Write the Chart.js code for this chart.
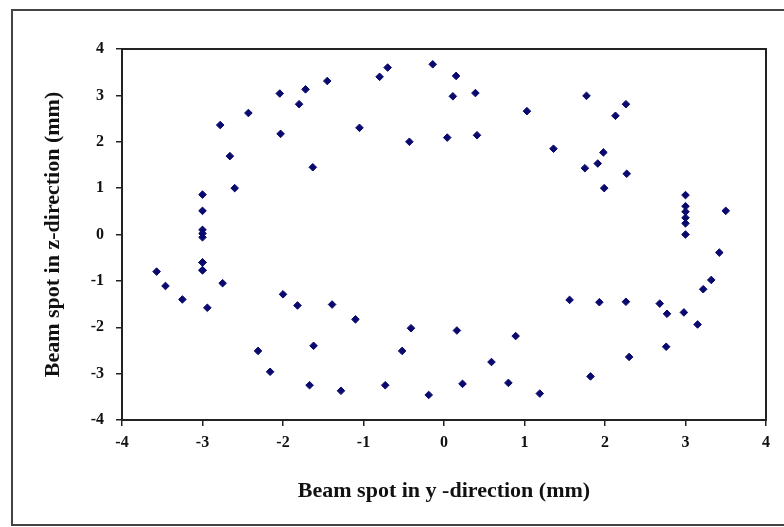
<!DOCTYPE html>
<html>
<head>
<meta charset="utf-8">
<script src="https://cdn.jsdelivr.net/npm/chart.js@4/dist/chart.umd.min.js"></script>
<style>
  html, body { margin: 0; padding: 0; background: #fff; }
  #wrap { width: 784px; height: 527px; }
</style>
</head>
<body>
<div id="wrap"><canvas id="myChart"></canvas></div>
<script>
// Beam spot positions (y-direction, z-direction) in mm
const beamY = [
    -3.0, -3.0, -3.0, -3.0, -3.0, -3.0, -3.0, -2.78, -2.66, -2.6, -2.43, -2.04, -2.03, -1.8,
    -1.72, -1.63, -1.45, -1.05, -0.8, -0.7, -0.43, -0.14, 0.04, 0.15, 0.11, 0.39, 0.41, 1.03,
    1.36, 1.77, 2.26, 2.13, 1.98, 1.91, 1.75, 2.27, 1.99,
    3.0, 3.0, 3.0, 3.0, 3.0, 3.0, 3.5, 3.42, 3.32, 3.22, 3.15, 2.98, 2.77, 2.68, 2.76, 2.3,
    2.26, 1.93, 1.82, 1.56, 1.19, 0.89, 0.8, 0.59, 0.23, 0.16, -0.19, -0.41, -0.52, -0.73,
    -1.1, -1.28, -1.39, -1.62, -1.67, -1.82, -2.0, -2.16, -2.31, -2.75, -2.94, -3.0, -3.0,
    -3.25, -3.46, -3.57
];
const beamZ = [
    0.86, 0.51, 0.1, 0.02, -0.06, -0.6, -0.77, 2.36, 1.69, 1.0, 2.62, 3.04, 2.17, 2.81,
    3.13, 1.45, 3.31, 2.3, 3.4, 3.6, 2.0, 3.67, 2.09, 3.42, 2.98, 3.05, 2.14, 2.66,
    1.85, 2.99, 2.81, 2.56, 1.77, 1.53, 1.43, 1.31, 1.0,
    0.85, 0.61, 0.49, 0.36, 0.24, 0.0, 0.51, -0.39, -0.98, -1.18, -1.94, -1.68, -1.71, -1.49, -2.42, -2.64,
    -1.45, -1.46, -3.06, -1.41, -3.43, -2.19, -3.2, -2.75, -3.22, -2.07, -3.46, -2.02, -2.51, -3.25,
    -1.83, -3.37, -1.51, -2.4, -3.25, -1.53, -1.29, -2.96, -2.51, -1.05, -1.58, -0.6, -0.77,
    -1.4, -1.11, -0.8
];
const tickMin = -4;
const tickMax = 4;

const points = beamY.map((v, i) => ({ x: v, y: beamZ[i] }));

// Outer figure frame and plot-area box
const framePlugin = {
    id: 'frame',
    afterDraw(chart) {
        const { ctx, chartArea: a } = chart;
        ctx.save();
        ctx.strokeStyle = '#444';
        ctx.lineWidth = 2;
        ctx.beginPath();
        ctx.moveTo(790, 10);
        ctx.lineTo(12, 10);
        ctx.lineTo(12, 525);
        ctx.lineTo(790, 525);
        ctx.stroke();
        ctx.strokeStyle = '#222';
        ctx.strokeRect(a.left, a.top, a.right - a.left, a.bottom - a.top);
        ctx.restore();
    }
};

const tickFont = { family: '"Liberation Serif", "Times New Roman", serif', size: 16, weight: 'bold' };
const titleFont = { family: '"Liberation Serif", "Times New Roman", serif', size: 22, weight: 'bold' };

const ctx = document.getElementById('myChart').getContext('2d');
window.myChart = new Chart(ctx, {
    type: 'scatter',
    data: {
        datasets: [{
            data: points,
            pointStyle: 'rectRot',
            pointRadius: 3.8,
            backgroundColor: '#0a0a6e',
            borderColor: '#0a0a6e',
            borderWidth: 1
        }]
    },
    plugins: [framePlugin],
    options: {
        responsive: true,
        maintainAspectRatio: false,
        animation: false,
        layout: { padding: { top: 49, right: 18, left: 0, bottom: 0 } },
        plugins: {
            legend: { display: false },
            tooltip: { enabled: false }
        },
        scales: {
            x: {
                type: 'linear',
                min: tickMin,
                max: tickMax,
                afterFit: (s) => { s.height = 107; },
                ticks: { stepSize: 1, color: '#111', font: tickFont, padding: 7, maxRotation: 0 },
                grid: { drawOnChartArea: false, drawTicks: true, tickLength: 6, color: '#222', lineWidth: 1.5 },
                border: { display: true, color: '#222', width: 2 },
                title: {
                    display: true,
                    text: 'Beam spot in y -direction (mm)',
                    color: '#111',
                    font: titleFont,
                    padding: { top: 0, bottom: 22 }
                }
            },
            y: {
                type: 'linear',
                min: tickMin,
                max: tickMax,
                afterFit: (s) => { s.width = 122; },
                ticks: { stepSize: 1, color: '#111', font: tickFont, padding: 12 },
                grid: { drawOnChartArea: false, drawTicks: true, tickLength: 6, color: '#222', lineWidth: 1.5 },
                border: { display: true, color: '#222', width: 2 },
                title: {
                    display: true,
                    text: 'Beam spot in z-direction (mm)',
                    color: '#111',
                    font: titleFont,
                    padding: { top: 40, bottom: 0 }
                }
            }
        }
    }
});
</script>
</body>
</html>
